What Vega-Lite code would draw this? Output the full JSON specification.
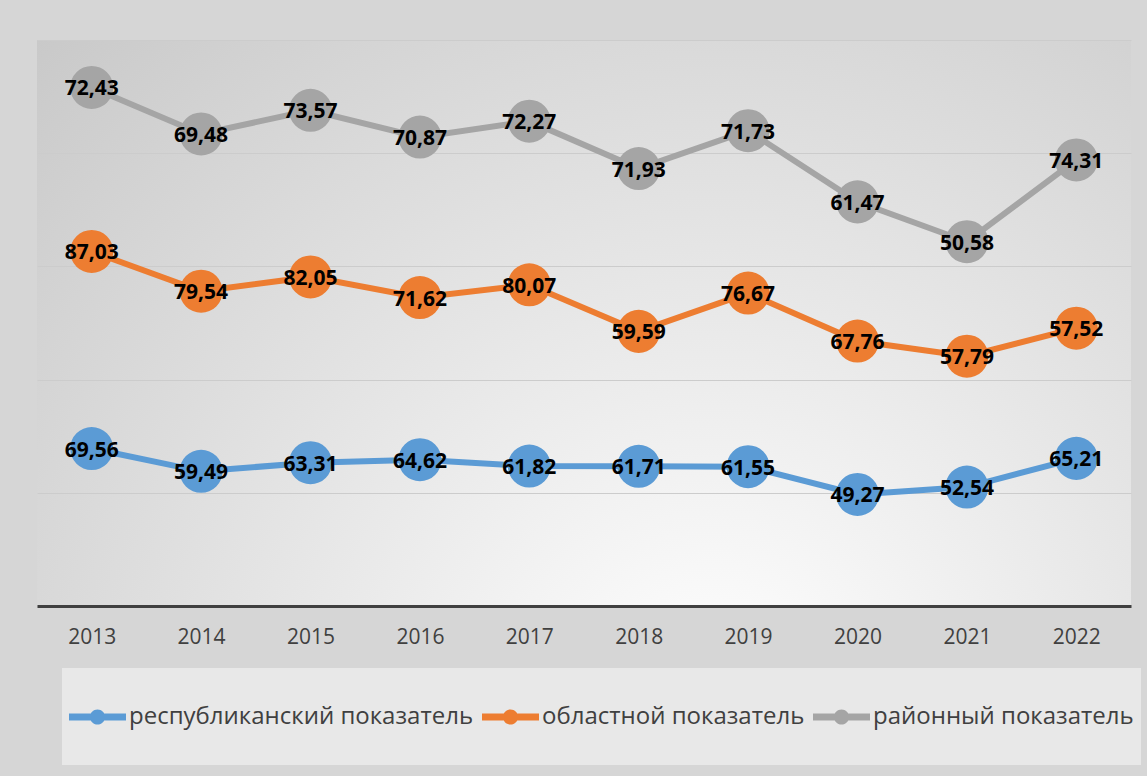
{
  "$schema": "https://vega.github.io/schema/vega-lite/v6.json",
  "width": 1094,
  "height": 566,
  "autosize": {"type": "none"},
  "padding": {"left": 37, "top": 40, "right": 16, "bottom": 170},
  "background": "#d6d6d6",
  "data": {
    "values": [
      {"year": "2013", "series": "республиканский показатель", "ord": 1, "value": 69.56},
      {"year": "2014", "series": "республиканский показатель", "ord": 1, "value": 59.49},
      {"year": "2015", "series": "республиканский показатель", "ord": 1, "value": 63.31},
      {"year": "2016", "series": "республиканский показатель", "ord": 1, "value": 64.62},
      {"year": "2017", "series": "республиканский показатель", "ord": 1, "value": 61.82},
      {"year": "2018", "series": "республиканский показатель", "ord": 1, "value": 61.71},
      {"year": "2019", "series": "республиканский показатель", "ord": 1, "value": 61.55},
      {"year": "2020", "series": "республиканский показатель", "ord": 1, "value": 49.27},
      {"year": "2021", "series": "республиканский показатель", "ord": 1, "value": 52.54},
      {"year": "2022", "series": "республиканский показатель", "ord": 1, "value": 65.21},
      {"year": "2013", "series": "областной показатель", "ord": 2, "value": 87.03},
      {"year": "2014", "series": "областной показатель", "ord": 2, "value": 79.54},
      {"year": "2015", "series": "областной показатель", "ord": 2, "value": 82.05},
      {"year": "2016", "series": "областной показатель", "ord": 2, "value": 71.62},
      {"year": "2017", "series": "областной показатель", "ord": 2, "value": 80.07},
      {"year": "2018", "series": "областной показатель", "ord": 2, "value": 59.59},
      {"year": "2019", "series": "областной показатель", "ord": 2, "value": 76.67},
      {"year": "2020", "series": "областной показатель", "ord": 2, "value": 67.76},
      {"year": "2021", "series": "областной показатель", "ord": 2, "value": 57.79},
      {"year": "2022", "series": "областной показатель", "ord": 2, "value": 57.52},
      {"year": "2013", "series": "районный показатель", "ord": 3, "value": 72.43},
      {"year": "2014", "series": "районный показатель", "ord": 3, "value": 69.48},
      {"year": "2015", "series": "районный показатель", "ord": 3, "value": 73.57},
      {"year": "2016", "series": "районный показатель", "ord": 3, "value": 70.87},
      {"year": "2017", "series": "районный показатель", "ord": 3, "value": 72.27},
      {"year": "2018", "series": "районный показатель", "ord": 3, "value": 71.93},
      {"year": "2019", "series": "районный показатель", "ord": 3, "value": 71.73},
      {"year": "2020", "series": "районный показатель", "ord": 3, "value": 61.47},
      {"year": "2021", "series": "районный показатель", "ord": 3, "value": 50.58},
      {"year": "2022", "series": "районный показатель", "ord": 3, "value": 74.31}
    ]
  },
  "transform": [
    {"stack": "value", "groupby": ["year"], "sort": [{"field": "ord", "order": "ascending"}], "as": ["y0", "y1"]}
  ],
  "encoding": {
    "x": {
      "field": "year", "type": "ordinal",
      "scale": {"type": "point", "padding": 0.5},
      "axis": {
        "title": null, "labelAngle": 0, "ticks": false, "grid": false,
        "domainColor": "#404040", "domainWidth": 3,
        "labelFont": "Open Sans", "labelFontSize": 21, "labelColor": "#404040",
        "labelPadding": 20
      }
    },
    "y": {
      "field": "y1", "type": "quantitative",
      "scale": {"domain": [0, 250], "nice": false, "zero": true},
      "axis": {
        "title": null, "labels": false, "ticks": false, "domain": false,
        "values": [0, 50, 100, 150, 200, 250],
        "grid": true, "gridColor": "#cccccc", "gridWidth": 1
      }
    },
    "color": {
      "field": "series", "type": "nominal",
      "scale": {
        "domain": ["республиканский показатель", "областной показатель", "районный показатель"],
        "range": ["#5b9bd5", "#ed7d31", "#a5a5a5"]
      },
      "legend": {
        "title": null,
        "orient": "none",
        "legendX": 25,
        "legendY": 628,
        "direction": "horizontal",
        "symbolType": "M-0.321,0.976L-0.321,0.976M-1,-0.083L0.357,-0.083L0.357,0.083L-1,0.083Z M-0.14,0A0.181,0.181,0,1,1,-0.502,0A0.181,0.181,0,1,1,-0.14,0Z",
        "symbolSize": 7056,
        "symbolStrokeWidth": 0,
        "labelFont": "Open Sans",
        "labelFontSize": 24,
        "labelColor": "#404040",
        "labelOffset": -24,
        "columnPadding": 8,
        "padding": 7,
        "fillColor": "rgba(255,255,255,0.45)",
        "labelLimit": 0,
        "encode": {
          "symbols": {
            "update": {
              "fill": {"scale": "color", "field": "value"},
              "stroke": {"value": "transparent"},
              "opacity": {"value": 1}
            }
          }
        }
      }
    }
  },
  "layer": [
    {
      "mark": {"type": "line", "strokeWidth": 6},
      "encoding": {"detail": {"field": "series"}}
    },
    {
      "mark": {"type": "circle", "size": 1850, "opacity": 1}
    },
    {
      "mark": {"type": "text", "font": "Open Sans", "fontWeight": "bold", "fontSize": 21, "color": "#000000", "dy": 2},
      "encoding": {
        "text": {"field": "value", "type": "quantitative", "format": ".2f"},
        "color": {"value": "#000000"}
      }
    }
  ],
  "config": {
    "locale": {"number": {"decimal": ",", "thousands": "\u00a0", "grouping": [3], "currency": ["", " ₽"]}},
    "view": {
      "stroke": null,
      "fill": {
        "gradient": "radial",
        "x1": 0.62, "y1": 0.85, "r1": 0,
        "x2": 0.62, "y2": 0.85, "r2": 0.95,
        "stops": [{"offset": 0, "color": "#ffffff"}, {"offset": 1, "color": "#c4c4c4"}]
      }
    }
  }
}
